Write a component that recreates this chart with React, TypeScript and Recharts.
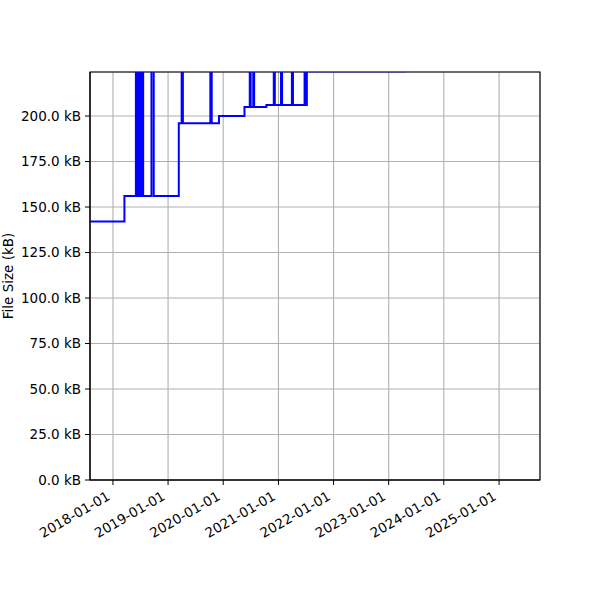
import React from 'react';
import { LineChart, Line, XAxis, YAxis, CartesianGrid, ReferenceArea } from 'recharts';

// release dates and bundle size (kB); points above the y range are clipped spikes
const dates = [
  '2017-08-02', '2018-03-18', '2018-06-02', '2018-06-08', '2018-06-12', '2018-06-17',
  '2018-06-21', '2018-06-26', '2018-06-30', '2018-07-04', '2018-07-08', '2018-07-13',
  '2018-07-16', '2018-07-20', '2018-09-13', '2018-09-28', '2019-03-13', '2019-04-01',
  '2019-04-09', '2019-10-08', '2019-10-17', '2019-12-04', '2020-05-21', '2020-06-25',
  '2020-07-01', '2020-07-18', '2020-07-24', '2020-10-13', '2020-12-01', '2020-12-08',
  '2021-01-18', '2021-01-25', '2021-03-31', '2021-04-07', '2021-06-23', '2021-07-01',
  '2021-07-08', '2021-07-17', '2023-04-27',
];
const sizes = [
  142, 156, 250, 156, 250, 156,
  250, 156, 250, 156, 250, 156,
  250, 156, 250, 156, 196, 250,
  196, 250, 196, 200, 205, 250,
  205, 250, 205, 206, 250, 206,
  250, 206, 250, 206, 250, 206,
  250, 224.6, 224.6,
];
const yearTicks = ['2018-01-01', '2019-01-01', '2020-01-01', '2021-01-01', '2022-01-01', '2023-01-01', '2024-01-01', '2025-01-01'];
const sizeTicks = [0, 25, 50, 75, 100, 125, 150, 175, 200];

const ts = (d: string) => Date.parse(d + 'T00:00:00Z');
const data = dates.map((d, i) => ({ t: ts(d), size: sizes[i] }));
const xDomain = [ts('2017-08-02'), ts('2025-09-29')];
const yDomain = [0, 224.2];

const font = 'DejaVu Sans, sans-serif';

const fmtDate = (v: number) => new Date(v).toISOString().slice(0, 10);

const DateTick = ({ x, y, payload }: any) => (
  <text
    transform={`translate(${x - 2},${y + 14}) rotate(-30)`}
    textAnchor="end"
    fontSize={13.5}
    fontFamily={font}
    fill="#000"
  >
    {fmtDate(payload.value)}
  </text>
);

export default function App() {
  return (
    <div style={{ position: 'absolute', left: 0, top: 0, width: 600, height: 600, background: '#fff' }}>
      <LineChart width={600} height={600} data={data} margin={{ top: 72, right: 60, bottom: 0, left: 0 }}>
        <CartesianGrid stroke="#b0b0b0" strokeWidth={1.1} />
        <XAxis
          dataKey="t"
          type="number"
          domain={xDomain}
          allowDataOverflow
          ticks={yearTicks.map(ts)}
          tick={<DateTick />}
          tickLine={{ stroke: '#000' }}
          axisLine={{ stroke: '#000' }}
          tickSize={5}
          tickMargin={0}
          height={120}
          interval={0}
        />
        <YAxis
          type="number"
          domain={yDomain}
          allowDataOverflow
          ticks={sizeTicks}
          tickFormatter={(v: number) => `${v.toFixed(1)} kB`}
          tick={{ fill: '#000', fontSize: 13.5, fontFamily: font }}
          tickLine={{ stroke: '#000' }}
          axisLine={{ stroke: '#000' }}
          tickSize={5}
          tickMargin={4}
          width={90}
          interval={0}
          label={{
            content: () => (
              <text
                transform="translate(13,276) rotate(-90)"
                textAnchor="middle"
                fontSize={13.5}
                fontFamily={font}
                fill="#000"
              >
                File Size (kB)
              </text>
            ),
          }}
        />
        <Line
          type="stepAfter"
          dataKey="size"
          stroke="#0000ff"
          strokeWidth={2}
          dot={false}
          isAnimationActive={false}
        />
        <ReferenceArea
          x1={xDomain[0]}
          x2={xDomain[1]}
          y1={yDomain[0]}
          y2={yDomain[1]}
          fill="none"
          fillOpacity={0}
          stroke="#000"
          strokeWidth={1.1}
        />
      </LineChart>
    </div>
  );
}
